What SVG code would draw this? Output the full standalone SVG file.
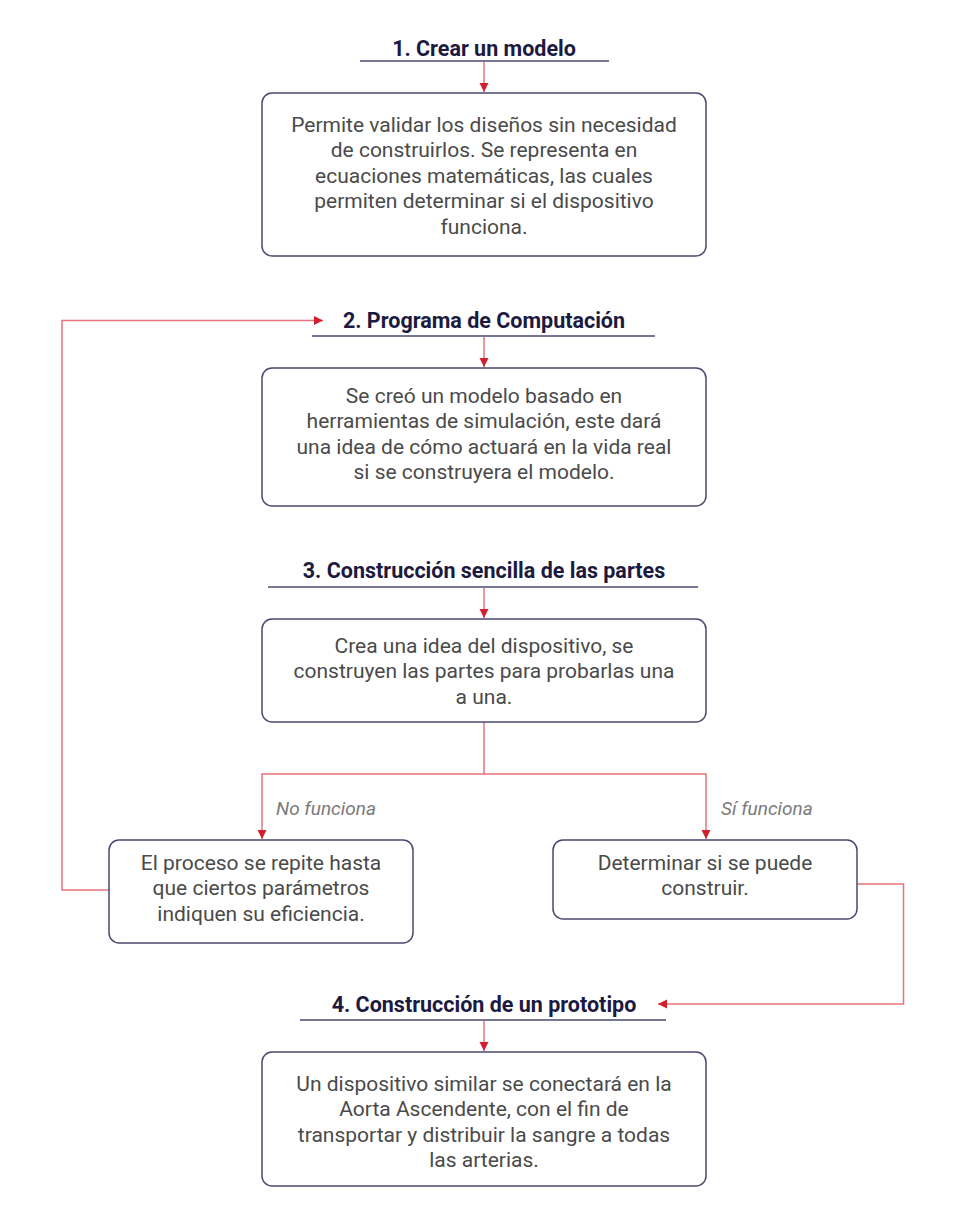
<svg xmlns="http://www.w3.org/2000/svg" width="960" height="1224" viewBox="0 0 960 1224">
<defs>
<marker id="arr" markerWidth="10" markerHeight="10" refX="9" refY="5" orient="auto" markerUnits="userSpaceOnUse">
<path d="M0,0.5 L9,5 L0,9.5 Z" fill="#d0202e"/>
</marker>
<style>
.box{fill:#ffffff;stroke:#4a4870;stroke-width:1.5}
.ul{stroke:#4a4870;stroke-width:1.5}
.ttl{font-family:Roboto,"Liberation Sans",sans-serif;font-weight:bold;font-size:21.5px;fill:#1c1a40;text-anchor:middle}
.txt{font-family:Roboto,"Liberation Sans",sans-serif;font-size:21px;fill:#4a4a4a;text-anchor:middle}
.lbl{font-family:Roboto,"Liberation Sans",sans-serif;font-style:italic;font-size:19px;fill:#7a7a7a}
.con{fill:none;stroke:#e8737b;stroke-width:1.5}
</style>
</defs>
<rect width="960" height="1224" fill="#ffffff"/>
<g id="connectors">
<path class="con" d="M484,62 V92" marker-end="url(#arr)"/>
<path class="con" d="M484,337 V367" marker-end="url(#arr)"/>
<path class="con" d="M484,588 V618" marker-end="url(#arr)"/>
<path class="con" d="M484,1021 V1051" marker-end="url(#arr)"/>
<path class="con" d="M484,722 V774 H262 V839" marker-end="url(#arr)"/>
<path class="con" d="M484,774 H706 V839" marker-end="url(#arr)"/>
<path class="con" d="M109,890 H62 V320.5 H323" marker-end="url(#arr)"/>
<path class="con" d="M857,884 H903.5 V1004 H658" marker-end="url(#arr)"/>
<text class="lbl" x="276" y="815">No funciona</text>
<text class="lbl" x="721" y="815">Sí funciona</text>
</g>
<g id="title1">
<text class="ttl" x="484" y="56">1. Crear un modelo</text>
<line class="ul" x1="360" y1="61" x2="609" y2="61"/>
</g>
<g id="node1">
<rect class="box" x="262" y="93" width="444" height="163" rx="10"/>
<text class="txt" x="484" y="131.5">Permite validar los diseños sin necesidad</text>
<text class="txt" x="484" y="157">de construirlos. Se representa en</text>
<text class="txt" x="484" y="182.5">ecuaciones matemáticas, las cuales</text>
<text class="txt" x="484" y="208">permiten determinar si el dispositivo</text>
<text class="txt" x="484" y="233.5">funciona.</text>
</g>
<g id="title2">
<text class="ttl" x="484" y="328">2. Programa de Computación</text>
<line class="ul" x1="312" y1="336" x2="655" y2="336"/>
</g>
<g id="node2">
<rect class="box" x="262" y="368" width="444" height="138" rx="10"/>
<text class="txt" x="484" y="402.5">Se creó un modelo basado en</text>
<text class="txt" x="484" y="428">herramientas de simulación, este dará</text>
<text class="txt" x="484" y="453.5">una idea de cómo actuará en la vida real</text>
<text class="txt" x="484" y="479">si se construyera el modelo.</text>
</g>
<g id="title3">
<text class="ttl" x="484" y="578">3. Construcción sencilla de las partes</text>
<line class="ul" x1="268" y1="587" x2="698" y2="587"/>
</g>
<g id="node3">
<rect class="box" x="262" y="619" width="444" height="103" rx="10"/>
<text class="txt" x="484" y="652.5">Crea una idea del dispositivo, se</text>
<text class="txt" x="484" y="678">construyen las partes para probarlas una</text>
<text class="txt" x="484" y="703.5">a una.</text>
</g>
<g id="node5">
<rect class="box" x="109" y="840" width="304" height="103" rx="10"/>
<text class="txt" x="261" y="869.5">El proceso se repite hasta</text>
<text class="txt" x="261" y="895">que ciertos parámetros</text>
<text class="txt" x="261" y="920.5">indiquen su eficiencia.</text>
</g>
<g id="node6">
<rect class="box" x="553" y="840" width="304" height="79" rx="10"/>
<text class="txt" x="705" y="869.5">Determinar si se puede</text>
<text class="txt" x="705" y="895">construir.</text>
</g>
<g id="title4">
<text class="ttl" x="484" y="1012">4. Construcción de un prototipo</text>
<line class="ul" x1="300" y1="1020" x2="666" y2="1020"/>
</g>
<g id="node7">
<rect class="box" x="262" y="1052" width="444" height="134" rx="10"/>
<text class="txt" x="484" y="1090.5">Un dispositivo similar se conectará en la</text>
<text class="txt" x="484" y="1116">Aorta Ascendente, con el fin de</text>
<text class="txt" x="484" y="1141.5">transportar y distribuir la sangre a todas</text>
<text class="txt" x="484" y="1167">las arterias.</text>
</g>
</svg>
